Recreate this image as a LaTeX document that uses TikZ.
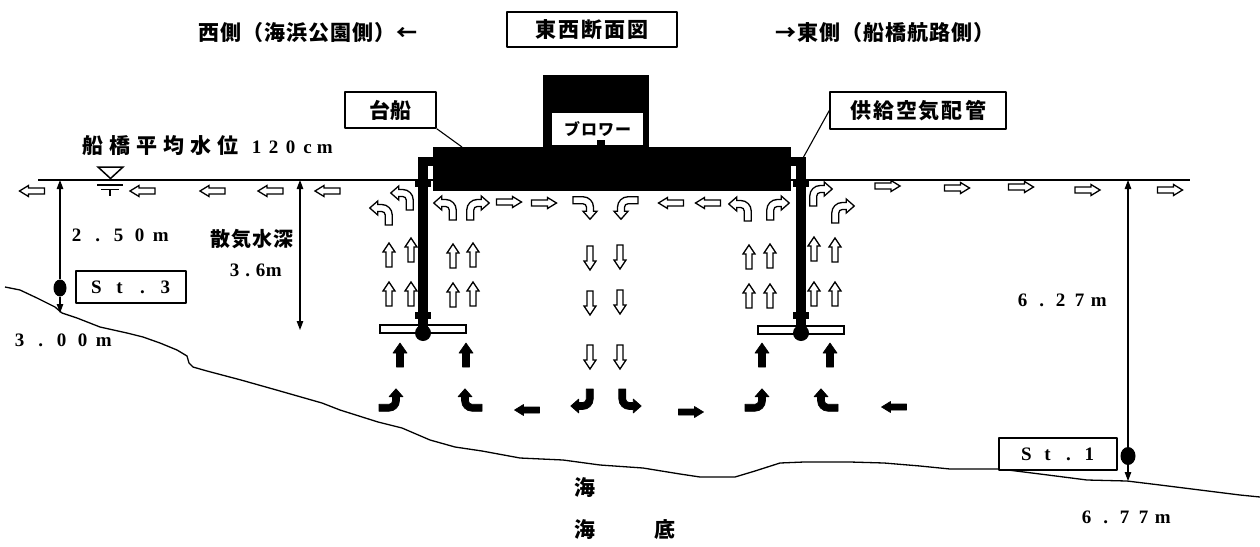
\documentclass[tikz,border=0pt]{standalone}
\usepackage{fontspec}
\usepackage{graphicx}
\usetikzlibrary{arrows.meta,shapes.geometric}
\newfontfamily\jp{Noto Sans CJK JP}
\newfontfamily\num{Liberation Serif}
\makeatletter
% set every character of #2 in a cell of width #1
\newcommand\cells[2]{\@tfor\cellch:=#2\do{\makebox[#1][c]{\cellch}}}
\makeatother

\tikzset{
  hol/.style={draw=black, fill=white, line width=1.3pt, line join=miter},
  sol/.style={draw=black, fill=black, line width=0.6pt},
  % straight block arrow pointing right
  harr/.pic={\path[pic actions] (-12.5,-3) -- (3.5,-3) -- (3.5,-5.5) -- (12.5,0) -- (3.5,5.5) -- (3.5,3) -- (-12.5,3) -- cycle;},
  % slim block arrow pointing up
  varr/.pic={\path[pic actions] (-3,12) -- (-3,-3) -- (-6,-3) -- (0,-12) -- (6,-3) -- (3,-3) -- (3,12) -- cycle;},
  % broad block arrow pointing up
  barr/.pic={\path[pic actions] (-3.5,12) -- (-3.5,-2) -- (-7,-2) -- (0,-12) -- (7,-2) -- (3.5,-2) -- (3.5,12) -- cycle;},
  % bent block arrow: rises, then turns right
  elb/.pic={\path[pic actions] (-11.25,12) -- (-11.25,2)
      .. controls (-11.25,-3.8) and (-6.55,-8.5) .. (-0.75,-8.5) -- (3.25,-8.5)
      -- (3.25,-12) -- (11.25,-5) -- (3.25,2) -- (3.25,-1.5) -- (-0.75,-1.5)
      .. controls (-2.68,-1.5) and (-4.25,0.07) .. (-4.25,2) -- (-4.25,12) -- cycle;},
}

\begin{document}
\begin{tikzpicture}[x=1pt, y=-1pt, line join=round,
  jpt/.style={font=\jp\bfseries\fontsize{21}{21}\selectfont, inner sep=0pt},
  numt/.style={font=\num\bfseries\fontsize{19}{19}\selectfont, inner sep=0pt},
  lbox/.style={draw=black, line width=1.4pt, fill=white},
  dimline/.style={line width=1.1pt},
  dimtip/.style={-{Triangle[length=9pt,width=6.5pt]}},
  dot/.style={ellipse, fill=black, inner sep=0pt}]

\useasboundingbox (0,0) rectangle (1260,546);

% ---- water surface and sea bottom
\coordinate (wlL) at (38,180);
\coordinate (wlR) at (1190,180);
\draw[line width=1.3pt] (wlL) -- (wlR);

\draw[line width=1.3pt] plot coordinates {(5,287) (20,290) (37,298) (55,307) (62,313)
  (77,318) (100,327) (127,333) (143,337) (160,343) (177,350) (187,356) (189,363)
  (193,367) (207,371) (241,380) (280,391) (322,403) (340,410) (378,422) (402,428) (430,440)
  (455,447) (482,451) (520,458) (563,460) (600,465) (643,468) (680,474) (700,477)
  (735,477) (755,471) (780,463) (804,462) (850,462) (884,463) (920,466) (950,469)
  (1000,469) (1040,474) (1087,480) (1127,481) (1160,485) (1200,490) (1240,495) (1260,497)};

% ---- titles
\node[jpt] (west) at (308,33) {\cells{22pt}{西側（海浜公園側）←}};
\node[lbox, jpt, minimum width=170pt, minimum height=35pt] (title) at (592,29.5) {\cells{23pt}{東西断面図}};
\node[jpt] (east) at (885,33) {\cells{22pt}{→東側（船橋航路側）}};

% ---- barge and blower
\node[fill=black, inner sep=0pt, minimum width=358pt, minimum height=44pt] (barge) at (612,169) {};
\node[fill=black, inner sep=0pt, minimum width=106pt, minimum height=72pt] (blower) at (596,111) {};
\node[fill=white, inner sep=0pt, minimum width=91pt, minimum height=32pt,
      font=\jp\bfseries\fontsize{16}{16}\selectfont] (blowlbl) at (597.5,129) {\cells{17pt}{ブロワー}};
\fill (597,140) rectangle (605,148);

% ---- air pipes with diffusers
\draw[hol, line width=1.2pt] (380,325) rectangle (466,333);
\fill (418,157) rectangle (428,333);
\fill (418,157) rectangle (434,166);
\fill (415,180) rectangle (431,187);
\fill (415,312) rectangle (431,319);
\fill (423,333) circle (8pt);

\draw[hol, line width=1.2pt] (758,326) rectangle (844,334);
\fill (796,157) rectangle (806,333);
\fill (790,157) rectangle (806,166);
\fill (793,180) rectangle (809,187);
\fill (793,312) rectangle (809,319);
\fill (801,333) circle (8pt);

% ---- callouts
\node[lbox, jpt, minimum width=91pt, minimum height=36pt] (taisen) at (390.5,110) {\cells{22pt}{台船}};
\coordinate (bargeTop) at (462,147);
\draw[line width=1.1pt] (taisen.south east) -- (bargeTop);

\node[lbox, jpt, minimum width=176pt, minimum height=37pt] (pipeLbl) at (918,110.5) {\cells{23pt}{供給空気配管}};
\coordinate (pipeTop) at (803,158);
\draw[line width=1.1pt] (pipeLbl.west) -- (pipeTop);

% ---- mean water level
\node[jpt, anchor=west] (level) at (79,146) {\cells{27pt}{船橋平均水位}{\num\fontsize{19}{19}\selectfont\hspace{7pt}\cells{17pt}{120cm}}};
\draw[line width=1.5pt, line join=miter] (98,167) -- (123,167) -- (110.5,178.5) -- cycle;
\draw[line width=1.2pt] (97,185) -- (123,185) (101,189.5) -- (119,189.5) (110,190) -- (110,196);

% ---- depth at St.3
\node[dot, minimum width=13pt, minimum height=17pt] (dot3) at (60,288) {};
\coordinate (wl3) at (60,180);
\coordinate (sb3) at (60,313);
\draw[dimline, dimtip] (dot3.north) -- (wl3);
\draw[dimline, dimtip] (dot3.south) -- (sb3);
\node[numt, anchor=west] (d250) at (66,235) {\cells{21pt}{2.50m}};
\node[lbox, numt, minimum width=110pt, minimum height=32pt] (st3) at (131,287) {\cells{23pt}{St.3}};
\node[numt, anchor=west] (d300) at (9,340) {\cells{21pt}{3.00m}};

% ---- aeration depth
\coordinate (adTop) at (300,180);
\coordinate (adBot) at (300,330);
\draw[dimline, {Triangle[length=9pt,width=6.5pt]}-{Triangle[length=9pt,width=6.5pt]}] (adTop) -- (adBot);
\node[jpt, anchor=west, font=\jp\bfseries\fontsize{20}{20}\selectfont] (adLbl) at (210,239) {\cells{21pt}{散気水深}};
\node[numt, anchor=west] (ad36) at (228,270) {\cells{13pt}{3.6m}};

% ---- depth at St.1
\node[dot, minimum width=15pt, minimum height=18pt] (dot1) at (1128,456) {};
\coordinate (wl1) at (1128,180);
\coordinate (sb1) at (1128,481);
\draw[dimline, dimtip] (dot1.north) -- (wl1);
\draw[dimline, dimtip] (dot1.south) -- (sb1);
\node[numt, anchor=west] (d627) at (1013,300) {\cells{19pt}{6.27m}};
\node[lbox, numt, minimum width=118pt, minimum height=32pt] (st1) at (1058,454) {\cells{21pt}{St.1}};
\node[numt, anchor=west] (d677) at (1077,517) {\cells{19pt}{6.77m}};

% ---- sea bottom labels
\node[jpt, font=\jp\bfseries\fontsize{21}{21}\selectfont] (sea1) at (585,488) {海};
\node[jpt, font=\jp\bfseries\fontsize{21}{21}\selectfont] (sea2) at (585,530) {海};
\node[jpt, font=\jp\bfseries\fontsize{21}{21}\selectfont] (bed) at (665,530) {底};

% ---- surface outflow
\foreach \ax in {32,142.5,212.5,270.5,327.5} \pic[hol, rotate=180] at (\ax,191) {harr};
\foreach \ax/\ay in {887.5/186, 957/188, 1021/187, 1087.5/190, 1170/190} \pic[hol] at (\ax,\ay) {harr};

% ---- flow just under the barge
\pic[hol, xscale=-1] at (402,198) {elb};
\pic[hol, xscale=-1] at (381,213) {elb};
\pic[hol, xscale=-1] at (445,208) {elb};
\pic[hol] at (478,208) {elb};
\pic[hol] at (509,202) {harr};
\pic[hol] at (544,203) {harr};
\pic[hol, rotate=-90] at (585,208) {elb};
\pic[hol, rotate=90, xscale=-1] at (626,208) {elb};
\pic[hol, rotate=180] at (671,203) {harr};
\pic[hol, rotate=180] at (708,203) {harr};
\pic[hol, xscale=-1] at (740,209) {elb};
\pic[hol] at (778,208) {elb};
\pic[hol] at (821,194) {elb};
\pic[hol] at (843,211) {elb};

% ---- rising columns beside the pipes
\foreach \ax/\ay in {389/255, 411/250, 389/294, 411/294, 453/256, 473/255, 453/295, 473/294,
                     749/257, 770/256, 749/296, 770/296, 814/249, 835/250, 814/294, 835/294}
  \pic[hol] at (\ax,\ay) {varr};

% ---- sinking column in the middle
\foreach \ax/\ay in {590/258, 620/257, 590/303, 620/302, 590/357, 620/357}
  \pic[hol, rotate=180] at (\ax,\ay) {varr};

% ---- inflow towards the diffusers
\foreach \ax in {400,466,762,830} \pic[sol] at (\ax,355) {barr};

% ---- return flow along the bottom
\pic[sol, rotate=-90, xscale=-1] at (391,400) {elb};
\pic[sol, rotate=90] at (470,400) {elb};
\pic[sol, rotate=180] at (527,410) {harr};
\pic[sol, rotate=180] at (582,401) {elb};
\pic[sol, rotate=180, xscale=-1] at (630,401) {elb};
\pic[sol] at (691,412) {harr};
\pic[sol, rotate=-90, xscale=-1] at (757,400) {elb};
\pic[sol, rotate=90] at (826,400) {elb};
\pic[sol, rotate=180] at (894,407) {harr};

\end{tikzpicture}
\end{document}
